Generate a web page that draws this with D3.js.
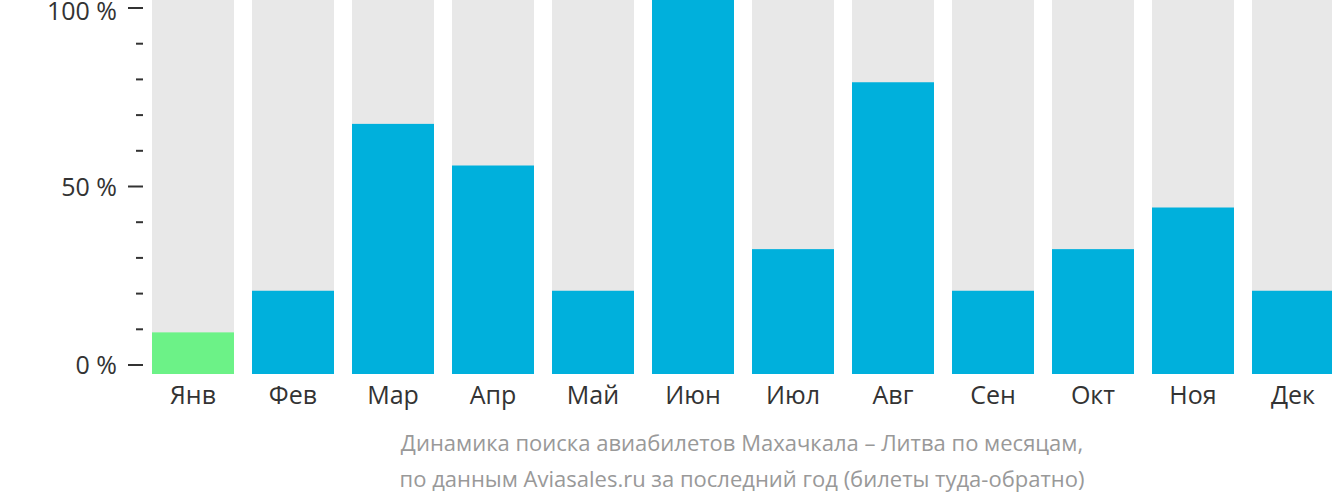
<!DOCTYPE html>
<html>
<head>
<meta charset="utf-8">
<script src="https://cdn.jsdelivr.net/npm/d3@7"></script>
<style>
  body { margin: 0; background: #fff; }
  svg { display: block; font-family: "Open Sans", sans-serif; }
</style>
</head>
<body>
<div id="viz"></div>
<script>
const months = ["Янв", "Фев", "Мар", "Апр", "Май", "Июн", "Июл", "Авг", "Сен", "Окт", "Ноя", "Дек"];
const shares = [11.1, 22.2, 66.7, 55.6, 22.2, 100, 33.3, 77.8, 22.2, 33.3, 44.4, 22.2];
const tickValues = [0, 50, 100];
const minorTicks = [10, 20, 30, 40, 60, 70, 80, 90];
const titleLines = [
  "Динамика поиска авиабилетов Махачкала – Литва по месяцам,",
  "по данным Aviasales.ru за последний год (билеты туда-обратно)"
];

const width = 1332;
const height = 502;

const svg = d3.select("#viz").append("svg")
    .attr("width", width)
    .attr("height", height);

const x = d3.scaleBand()
    .domain(months)
    .range([152, 1334])
    .paddingInner(0.18)
    .paddingOuter(0);

// bars and axis are slightly offset from each other in the original
const yBar = d3.scaleLinear().domain([0, 100]).range([374, -1]);
const yAxis = d3.scaleLinear().domain([0, 100]).range([365, 8]);

const lowest = d3.min(shares);

svg.append("g").selectAll("rect")
    .data(months)
    .enter()
    .append("rect")
    .attr("x", d => x(d))
    .attr("y", yBar(100))
    .attr("width", x.bandwidth())
    .attr("height", yBar(0) - yBar(100))
    .attr("fill", "#e8e8e8");

svg.append("g").selectAll("rect")
    .data(shares)
    .enter()
    .append("rect")
    .attr("x", (d, i) => x(months[i]))
    .attr("y", d => yBar(d))
    .attr("width", x.bandwidth())
    .attr("height", d => yBar(0) - yBar(d))
    .attr("fill", d => d === lowest ? "#6cf287" : "#00b0dc");

// y axis
const axisG = svg.append("g").attr("transform", "translate(143,0)");

axisG.selectAll(".minor")
    .data(minorTicks)
    .enter()
    .append("line")
    .attr("x1", -7).attr("x2", 0)
    .attr("y1", d => yAxis(d)).attr("y2", d => yAxis(d))
    .attr("stroke", "#333").attr("stroke-width", 2);

axisG.selectAll(".major")
    .data(tickValues)
    .enter()
    .append("line")
    .attr("x1", -15).attr("x2", 0)
    .attr("y1", d => yAxis(d)).attr("y2", d => yAxis(d))
    .attr("stroke", "#333").attr("stroke-width", 2);

// keep the top label inside the picture
axisG.selectAll("text")
    .data(tickValues)
    .enter()
    .append("text")
    .attr("x", -26)
    .attr("y", d => Math.max(yAxis(d) + 9, 19.5))
    .attr("text-anchor", "end")
    .attr("font-size", 25)
    .attr("fill", "#333")
    .text(d => d + " %");

// month labels
svg.append("g").selectAll("text")
    .data(months)
    .enter()
    .append("text")
    .attr("x", d => x(d) + x.bandwidth() / 2)
    .attr("y", 404)
    .attr("text-anchor", "middle")
    .attr("font-size", 25)
    .attr("fill", "#333")
    .text(d => d);

// caption
svg.append("g").selectAll("text")
    .data(titleLines)
    .enter()
    .append("text")
    .attr("x", 742)
    .attr("y", (d, i) => 451 + i * 36)
    .attr("text-anchor", "middle")
    .attr("font-size", 22)
    .attr("fill", "#999")
    .text(d => d);
</script>
</body>
</html>
